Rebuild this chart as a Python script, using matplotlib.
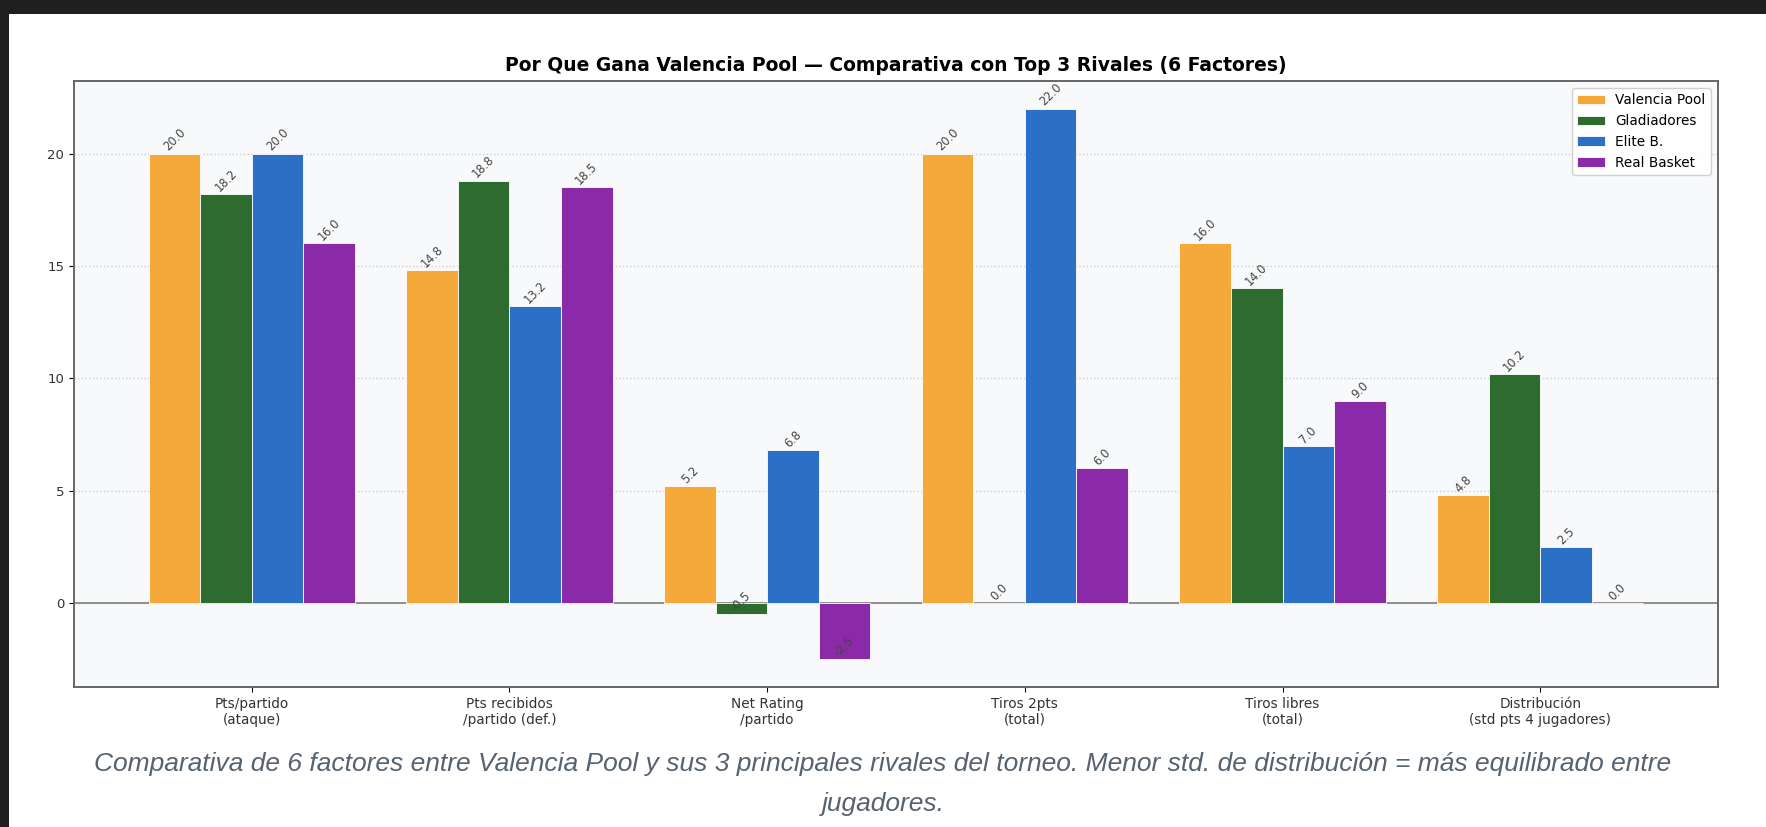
import numpy as np
import matplotlib
matplotlib.use("Agg")
import matplotlib.pyplot as plt
from matplotlib.patches import Rectangle

factors = ["Pts/partido\n(ataque)", "Pts recibidos\n/partido (def.)", "Net Rating\n/partido",
           "Tiros 2pts\n(total)", "Tiros libres\n(total)", "Distribución\n(std pts 4 jugadores)"]
teams = ["Valencia Pool", "Gladiadores", "Elite B.", "Real Basket"]
valencia = [20.0, 14.8, 5.2, 20.0, 16.0, 4.8]
gladiadores = [18.2, 18.8, -0.5, 0.0, 14.0, 10.2]
elite = [20.0, 13.2, 6.8, 22.0, 7.0, 2.5]
real_basket = [16.0, 18.5, -2.5, 6.0, 9.0, 0.0]
colors = ["#F4A93A", "#2E6B2F", "#2B6FC6", "#8A2AA8"]

caption = ("Comparativa de 6 factores entre Valencia Pool y sus 3 principales rivales del torneo. "
           "Menor std. de distribución = más equilibrado entre\njugadores.")

fig = plt.figure(figsize=(17.66, 8.27), dpi=100)
fig.patch.set_facecolor("white")
# dark screenshot borders
fig.patches.append(Rectangle((0, 1 - 14 / 827), 1, 14 / 827, transform=fig.transFigure,
                             facecolor="#1f1f1f", edgecolor="none", zorder=0))
fig.patches.append(Rectangle((0, 0), 9 / 1766, 1, transform=fig.transFigure,
                             facecolor="#1f1f1f", edgecolor="none", zorder=0))

ax = fig.add_axes([74 / 1766, 1 - 687 / 827, (1718 - 74) / 1766, (687 - 81) / 827])
ax.set_facecolor("#f8f9fa")

x = np.arange(len(factors))
w = 0.2
series = [valencia, gladiadores, elite, real_basket]
for i, (name, vals) in enumerate(zip(teams, series)):
    bars = ax.bar(x + (i - 1.5) * w, vals, w, label=name, color=colors[i],
                  edgecolor="white", linewidth=0.6, zorder=3)
    for b, v in zip(bars, vals):
        ax.text(b.get_x() + b.get_width() / 2, v, f"{v:.1f}", ha="center", va="bottom",
                rotation=45, fontsize=8.3, color="#444444", zorder=4)

ax.axhline(0, color="#888888", linewidth=1.3, zorder=2)
ax.yaxis.grid(True, linestyle=":", color="#cccccc", linewidth=1)
ax.set_axisbelow(True)
ax.set_xticks(x)
ax.set_xticklabels(factors, fontsize=9.8, color="#333333")
ax.tick_params(axis="y", labelsize=9.5, labelcolor="#333333")
for s in ax.spines.values():
    s.set_color("#666666")
    s.set_linewidth(1.4)

ax.set_title("Por Que Gana Valencia Pool — Comparativa con Top 3 Rivales (6 Factores)",
             fontsize=13.5, fontweight="bold", pad=7)
ax.legend(loc="upper right", fontsize=9.8, framealpha=0.9)

fig.text(0.5, 1 - 784 / 827, caption, ha="center", va="center", fontsize=19,
         style="italic", color="#556270", family="Liberation Sans", linespacing=1.85)

fig.savefig("out.png", dpi=100)
